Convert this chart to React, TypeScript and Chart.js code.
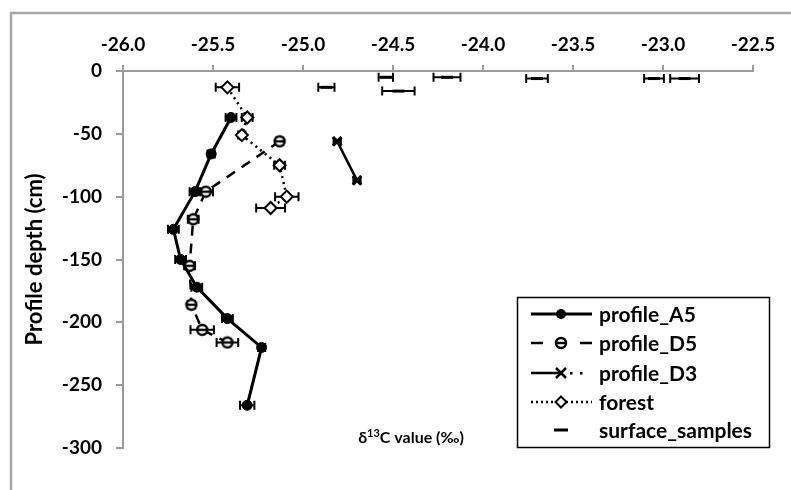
import { useEffect, useRef } from "react";
import { Chart, registerables } from "chart.js";

Chart.register(...registerables);

// ---- axis ranges / ticks ----
const xMin = -26.0;
const xMax = -22.5;
const xStep = 0.5;
const yMin = -300;
const yMax = 0;
const yStep = 50;

// ---- series ----
const a5X = [-25.40, -25.51, -25.60, -25.72, -25.68, -25.59, -25.42, -25.23, -25.31];
const a5Y = [-37, -66, -96, -126, -150, -172, -197, -220, -266];
const a5Err = [0.03, 0.02, 0.03, 0.03, 0.03, 0.03, 0.03, 0.02, 0.04];

const d5X = [-25.13, -25.54, -25.61, -25.63, -25.62, -25.56, -25.42];
const d5Y = [-56, -96, -118, -155, -186, -206, -216];
const d5Err = [0.02, 0.04, 0.03, 0.03, 0.02, 0.065, 0.06];

const d3X = [-24.81, -24.70];
const d3Y = [-56, -87];
const d3Err = [0.02, 0.02];

const forestX = [-25.42, -25.31, -25.34, -25.13, -25.09, -25.18];
const forestY = [-13, -37, -51, -75, -100, -109];
const forestErr = [0.065, 0.03, 0.02, 0.03, 0.065, 0.08];

const surfaceX = [-24.87, -24.54, -24.47, -24.20, -23.70, -23.05, -22.88];
const surfaceY = [-13, -5, -16, -5, -6, -6, -6];
const surfaceErr = [0.045, 0.04, 0.09, 0.075, 0.06, 0.055, 0.08];

const seriesNames = ["profile_A5", "profile_D5", "profile_D3", "forest", "surface_samples"];
const xTitleMain = "δ";
const xTitleSup = "13";
const xTitleRest = "C value (‰)";
const yTitle = "Profile depth (cm)";

const FONT = "Lato, 'Open Sans', sans-serif";

function pts(xs: number[], ys: number[]) {
  return xs.map((x, i) => ({ x, y: ys[i] }));
}

function makeD5Marker(): HTMLCanvasElement {
  const c = document.createElement("canvas");
  c.width = 14;
  c.height = 14;
  const g = c.getContext("2d")!;
  g.lineWidth = 2.4;
  g.strokeStyle = "#000";
  g.fillStyle = "#fff";
  g.beginPath();
  g.arc(7, 7, 5, 0, Math.PI * 2);
  g.fill();
  g.stroke();
  g.beginPath();
  g.moveTo(2, 7);
  g.lineTo(12, 7);
  g.stroke();
  return c;
}

const errMap: Record<number, number[]> = {
  0: a5Err,
  1: d5Err,
  2: d3Err,
  3: forestErr,
  4: surfaceErr,
};

const errorBarPlugin = {
  id: "errorBars",
  beforeDatasetsDraw(chart: any) {
    const ctx = chart.ctx;
    const xs = chart.scales.x;
    const ys = chart.scales.y;
    ctx.save();
    ctx.strokeStyle = "#000";
    ctx.lineWidth = 2;
    chart.data.datasets.forEach((ds: any, di: number) => {
      const errs = errMap[di];
      if (!errs) return;
      ds.data.forEach((p: any, i: number) => {
        const e = errs[i];
        const x1 = xs.getPixelForValue(p.x - e);
        const x2 = xs.getPixelForValue(p.x + e);
        const y = ys.getPixelForValue(p.y);
        ctx.beginPath();
        ctx.moveTo(x1, y);
        ctx.lineTo(x2, y);
        ctx.moveTo(x1, y - 4.5);
        ctx.lineTo(x1, y + 4.5);
        ctx.moveTo(x2, y - 4.5);
        ctx.lineTo(x2, y + 4.5);
        ctx.stroke();
      });
    });
    ctx.restore();
  },
};

const framePlugin = {
  id: "frame",
  beforeDraw(chart: any) {
    const ctx = chart.ctx;
    ctx.save();
    ctx.fillStyle = "#fff";
    ctx.fillRect(0, 0, chart.width, chart.height);
    ctx.strokeStyle = "#a6a6a6";
    ctx.lineWidth = 2.5;
    ctx.beginPath();
    ctx.moveTo(11, chart.height);
    ctx.lineTo(11, 13);
    ctx.lineTo(chart.width, 13);
    ctx.stroke();
    ctx.restore();
  },
};

function drawDiamond(ctx: CanvasRenderingContext2D, x: number, y: number, r: number) {
  ctx.save();
  ctx.fillStyle = "#fff";
  ctx.strokeStyle = "#000";
  ctx.lineWidth = 2;
  ctx.beginPath();
  ctx.moveTo(x, y - r);
  ctx.lineTo(x + r, y);
  ctx.lineTo(x, y + r);
  ctx.lineTo(x - r, y);
  ctx.closePath();
  ctx.fill();
  ctx.stroke();
  ctx.restore();
}

const legendPlugin = {
  id: "customLegend",
  afterDraw(chart: any) {
    const ctx: CanvasRenderingContext2D = chart.ctx;
    const d5Img = chart.data.datasets[1].pointStyle as HTMLCanvasElement;
    ctx.save();
    // box
    ctx.strokeStyle = "#000";
    ctx.lineWidth = 1.5;
    ctx.strokeRect(517.5, 297.5, 252, 150);
    const rows = [314, 343, 373, 402, 430];
    const lx1 = 531;
    const lx2 = 592;
    const mx = 561;
    ctx.lineCap = "butt";
    rows.forEach((ry, i) => {
      ctx.strokeStyle = "#000";
      ctx.fillStyle = "#000";
      if (i === 0) {
        ctx.lineWidth = 3;
        ctx.setLineDash([]);
        ctx.beginPath();
        ctx.moveTo(lx1, ry);
        ctx.lineTo(lx2, ry);
        ctx.stroke();
        ctx.beginPath();
        ctx.arc(mx, ry, 5, 0, Math.PI * 2);
        ctx.fill();
      } else if (i === 1) {
        ctx.lineWidth = 2.5;
        ctx.setLineDash([]);
        ctx.beginPath();
        ctx.moveTo(lx1, ry);
        ctx.lineTo(lx1 + 12, ry);
        ctx.moveTo(lx2 - 12, ry);
        ctx.lineTo(lx2, ry);
        ctx.stroke();
        ctx.drawImage(d5Img, mx - 7, ry - 7);
      } else if (i === 2) {
        ctx.lineWidth = 2.5;
        ctx.setLineDash([]);
        ctx.beginPath();
        ctx.moveTo(lx1, ry);
        ctx.lineTo(mx, ry);
        ctx.stroke();
        ctx.fillRect(mx + 9, ry - 1, 2.5, 2.5);
        ctx.fillRect(mx + 19, ry - 1, 2.5, 2.5);
        ctx.lineWidth = 2.5;
        ctx.beginPath();
        ctx.moveTo(mx - 5, ry - 5);
        ctx.lineTo(mx + 5, ry + 5);
        ctx.moveTo(mx - 5, ry + 5);
        ctx.lineTo(mx + 5, ry - 5);
        ctx.stroke();
      } else if (i === 3) {
        ctx.lineWidth = 2.5;
        ctx.setLineDash([2, 3]);
        ctx.beginPath();
        ctx.moveTo(lx1, ry);
        ctx.lineTo(lx2, ry);
        ctx.stroke();
        ctx.setLineDash([]);
        drawDiamond(ctx, mx, ry, 5.5);
      } else {
        ctx.lineWidth = 3;
        ctx.setLineDash([]);
        ctx.beginPath();
        ctx.moveTo(mx - 7, ry);
        ctx.lineTo(mx + 7, ry);
        ctx.stroke();
      }
      ctx.setLineDash([]);
      ctx.fillStyle = "#000";
      ctx.font = `bold 21px ${FONT}`;
      ctx.textAlign = "left";
      ctx.textBaseline = "middle";
      ctx.fillText(seriesNames[i], 599, ry + 1);
    });

    // x axis title (bottom)
    const big = `bold 16px ${FONT}`;
    const small = `bold 11px ${FONT}`;
    ctx.font = big;
    const w1 = ctx.measureText(xTitleMain).width;
    const w3 = ctx.measureText(xTitleRest).width;
    ctx.font = small;
    const w2 = ctx.measureText(xTitleSup).width;
    const total = w1 + w2 + w3;
    let sx = 411 - total / 2;
    const by = 443;
    ctx.textBaseline = "alphabetic";
    ctx.font = big;
    ctx.fillText(xTitleMain, sx, by);
    sx += w1;
    ctx.font = small;
    ctx.fillText(xTitleSup, sx, by - 6);
    sx += w2;
    ctx.font = big;
    ctx.fillText(xTitleRest, sx, by);
    ctx.restore();
  },
};

export default function App() {
  const ref = useRef<HTMLCanvasElement>(null);
  useEffect(() => {
    document.body.style.margin = "0";
    const canvas = ref.current!;
    const d5Marker = makeD5Marker();
    const axisColor = "#9a9a9a";
    const tickFont = { family: FONT, weight: "bold" as const, size: 19 };
    const chart = new Chart(canvas, {
      type: "scatter",
      data: {
        datasets: [
          {
            label: seriesNames[0],
            data: pts(a5X, a5Y),
            showLine: true,
            borderColor: "#000",
            backgroundColor: "#000",
            borderWidth: 3,
            pointStyle: "circle",
            pointRadius: 5,
            pointBorderWidth: 1,
          },
          {
            label: seriesNames[1],
            data: pts(d5X, d5Y),
            showLine: true,
            borderColor: "#000",
            backgroundColor: "#fff",
            borderWidth: 2.5,
            borderDash: [10, 8],
            pointStyle: d5Marker as any,
            pointRadius: 6,
          },
          {
            label: seriesNames[2],
            data: pts(d3X, d3Y),
            showLine: true,
            borderColor: "#000",
            backgroundColor: "#000",
            borderWidth: 2.5,
            pointStyle: "crossRot",
            pointRadius: 6,
            pointBorderWidth: 3,
          },
          {
            label: seriesNames[3],
            data: pts(forestX, forestY),
            showLine: true,
            borderColor: "#000",
            backgroundColor: "#fff",
            borderWidth: 2.5,
            borderDash: [2, 4],
            pointStyle: "rectRot",
            pointRadius: 6,
            pointBorderWidth: 2,
          },
          {
            label: seriesNames[4],
            data: pts(surfaceX, surfaceY),
            showLine: false,
            borderColor: "#000",
            backgroundColor: "#000",
            pointStyle: "line",
            pointRadius: 6,
            pointBorderWidth: 3,
          },
        ],
      },
      options: {
        responsive: false,
        animation: false,
        devicePixelRatio: 1,
        layout: { padding: { left: 0, top: 0, right: 38, bottom: 42 } },
        plugins: {
          legend: { display: false },
          tooltip: { enabled: false },
        },
        scales: {
          x: {
            type: "linear",
            position: "top",
            min: xMin,
            max: xMax,
            ticks: {
              stepSize: xStep,
              callback: (v: any) => Number(v).toFixed(1),
              font: tickFont,
              color: "#000",
              padding: 9,
              maxRotation: 0,
            },
            grid: {
              drawOnChartArea: false,
              drawTicks: true,
              tickLength: 6,
              color: axisColor,
              lineWidth: 2,
            },
            border: { color: axisColor, width: 2 },
            afterFit: (s: any) => {
              s.height = 71;
            },
          },
          y: {
            type: "linear",
            position: "left",
            min: yMin,
            max: yMax,
            ticks: {
              stepSize: yStep,
              font: tickFont,
              color: "#000",
              padding: 14,
            },
            grid: {
              drawOnChartArea: false,
              drawTicks: true,
              tickLength: 7,
              color: axisColor,
              lineWidth: 2,
            },
            border: { color: axisColor, width: 2 },
            title: {
              display: true,
              text: yTitle,
              color: "#000",
              font: { family: FONT, weight: "bold", size: 22 },
              padding: { top: 22, bottom: 0 },
            },
            afterFit: (s: any) => {
              s.width = 123;
            },
          },
        },
      },
      plugins: [framePlugin, errorBarPlugin, legendPlugin],
    });
    return () => chart.destroy();
  }, []);
  return (
    <div style={{ position: "fixed", left: 0, top: 0, width: 791, height: 490, background: "#fff" }}>
      <canvas ref={ref} width={791} height={490} style={{ display: "block", width: 791, height: 490 }} />
    </div>
  );
}
